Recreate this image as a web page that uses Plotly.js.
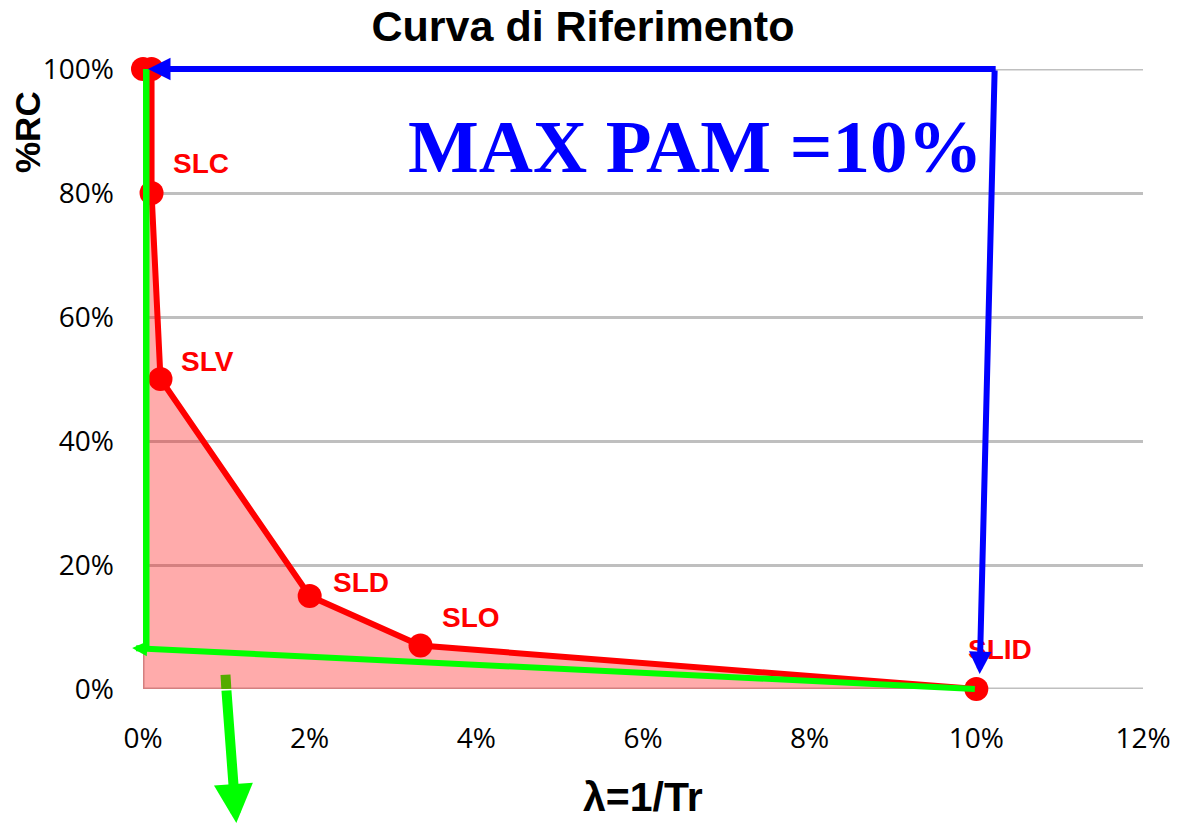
<!DOCTYPE html>
<html><head><meta charset="utf-8">
<script src="https://cdn.plot.ly/plotly-3.0.1.min.js"></script>
<style>html,body{margin:0;padding:0;background:#fff}</style>
</head><body><div id="chart" style="width:1178px;height:824px"></div>
<script>
// Data (percent values)
const lambdaPct = [0, 0.1026, 0.1026, 0.21, 2, 3.33, 10];
const rcPct = [100, 100, 80, 50, 15, 7, 0];
const pointLabels = ['', '', 'SLC', 'SLV', 'SLD', 'SLO', 'SLID'];
const xTickVals = [0, 2, 4, 6, 8, 10, 12];
const yTickVals = [0, 20, 40, 60, 80, 100];
const chartTitle = 'Curva di Riferimento';
const xTitle = '\u03bb=1/Tr';
const yTitle = '%RC';
const noteText = 'MAX PAM =10%';

// label offsets (pixels) relative to each point
const labelShiftX = [0, 0, 19, 18, 21, 19, -10];
const labelShiftY = [0, 0, 30, 18, 14, 28, 40];

const RED = '#FF0000', BLUE = '#0000FF', GREEN = '#00FF00', GRID = '#BFBFBF';
const SANS = 'Liberation Sans, Arial, sans-serif';
const labelFont = {family: SANS, size: 28, color: RED};

const trace = {
  x: lambdaPct, y: rcPct, type: 'scatter', mode: 'lines+markers',
  fill: 'tozeroy', fillcolor: 'rgba(255,0,0,0.33)',
  line: {color: RED, width: 6},
  marker: {color: RED, size: 24},
  cliponaxis: false, hoverinfo: 'skip', showlegend: false
};

// plot area: x 143..1143 px, y 69..689 px
const px = v => (v - 143) / 1000;
const py = v => (689 - v) / 620;

const annotations = [];
pointLabels.forEach((t, i) => {
  if (!t) return;
  annotations.push({x: lambdaPct[i], y: rcPct[i], xref: 'x', yref: 'y', text: '<b>' + t + '</b>',
    showarrow: false, xanchor: 'left', yanchor: 'middle', xshift: labelShiftX[i], yshift: labelShiftY[i], font: labelFont});
});

function arrow(x, y, ax, ay, color, width, size) {
  return {x: x, y: y, ax: ax, ay: ay, xref: 'x', yref: 'y', axref: 'x', ayref: 'y', text: '',
    showarrow: true, arrowhead: 2, arrowsize: size, arrowwidth: width, arrowcolor: color, standoff: 0};
}
// blue arrows
annotations.push(arrow(0.06, 100, 10.25, 100, BLUE, 6, 0.75));
annotations.push(arrow(10.04, 2.4, 10.22, 100, BLUE, 6, 0.75));
// green slanted arrow
annotations.push(arrow(-0.13, 6.6, 10, 0, GREEN, 6, 0.5));
// green down arrow (tip beyond bottom edge)
annotations.push({x: 1.12, y: py(840), xref: 'x', yref: 'paper', ax: -10, ay: -151, axref: 'pixel', ayref: 'pixel',
  text: '', showarrow: true, arrowhead: 2, arrowsize: 0.78, arrowwidth: 10, arrowcolor: GREEN, standoff: 0});

// MAX PAM text
annotations.push({x: 6.63, y: 87.5, xref: 'x', yref: 'y', text: '<b>' + noteText + '</b>', showarrow: false,
  xanchor: 'center', yanchor: 'middle', font: {family: 'Liberation Serif, Times New Roman, serif', size: 75, color: BLUE}});
// y title
annotations.push({x: px(28), y: py(132), xref: 'paper', yref: 'paper', text: '<b>' + yTitle + '</b>', showarrow: false,
  textangle: -90, xanchor: 'center', yanchor: 'middle', font: {family: SANS, size: 35, color: '#000'}});
// x title
annotations.push({x: px(643), y: py(822), xref: 'paper', yref: 'paper', text: '<b>' + xTitle + '</b>', showarrow: false,
  xanchor: 'center', yanchor: 'bottom', font: {family: SANS, size: 41, color: '#000'}});

const layout = {
  width: 1178, height: 824,
  margin: {l: 143, r: 35, t: 69, b: 135},
  paper_bgcolor: '#fff', plot_bgcolor: '#fff',
  title: {text: '<b>' + chartTitle + '</b>', x: 583 / 1178, xref: 'container', xanchor: 'center', y: 1 - 26 / 824, yref: 'container', yanchor: 'middle',
    font: {family: SANS, size: 43, color: '#000'}},
  xaxis: {range: [0, 12], tickvals: xTickVals, ticktext: xTickVals.map(v => v + '%'), showgrid: false, zeroline: false,
    showline: false, ticks: '', ticklabelstandoff: 30,
    tickfont: {family: 'Open Sans, sans-serif', size: 28, color: '#000'}},
  yaxis: {range: [0, 100], tickvals: yTickVals, ticktext: yTickVals.map(v => v + '%'), showgrid: true, gridcolor: GRID, gridwidth: 3,
    zeroline: false, showline: false, ticks: '', ticklabelstandoff: 28,
    tickfont: {family: 'Open Sans, sans-serif', size: 28, color: '#000'}},
  shapes: [
    // axis-edge gridlines (0% and 100%) and y axis line, behind the data
    {type: 'line', xref: 'x', yref: 'y', x0: 0, x1: 12, y0: 0, y1: 0, line: {color: GRID, width: 3}, layer: 'below'},
    {type: 'line', xref: 'x', yref: 'y', x0: 0, x1: 12, y0: 100, y1: 100, line: {color: GRID, width: 3}, layer: 'below'},
    {type: 'line', xref: 'x', yref: 'y', x0: 0, x1: 0, y0: 0, y1: 100, line: {color: GRID, width: 3}, layer: 'below'},
    // green vertical line
    {type: 'line', xref: 'x', yref: 'y', x0: 0.036, x1: 0.036, y0: 100.6, y1: 6.6, line: {color: GREEN, width: 7}, layer: 'above'},
    // green down arrow portion behind fill
    {type: 'line', xref: 'x', yref: 'y', x0: 0.99, x1: 1.0, y0: 2.3, y1: 0, line: {color: GREEN, width: 10}, layer: 'below'}
  ],
  annotations: annotations
};

Plotly.newPlot('chart', [trace], layout, {staticPlot: true, displayModeBar: false});
</script></body></html>
